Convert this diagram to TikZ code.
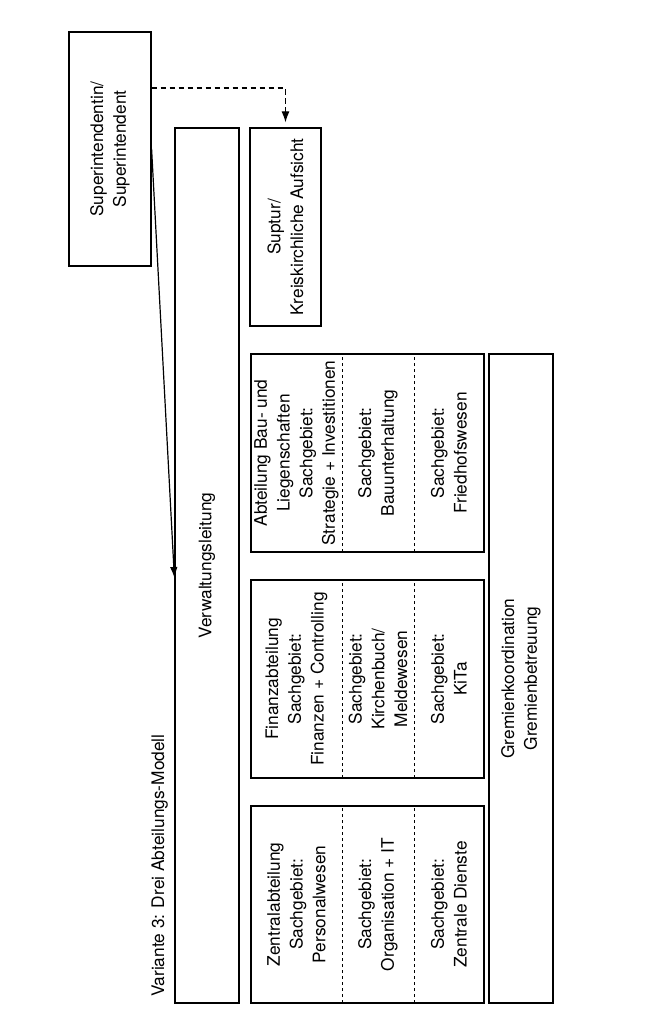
\documentclass[tikz,border=0pt]{standalone}
\usepackage{fontspec}
\setmainfont{TeX Gyre Heros}
\usetikzlibrary{arrows.meta,calc}
\begin{document}
\begin{tikzpicture}[x=1pt,y=1pt,
  every node/.style={font=\fontsize{17.3}{22.7}\selectfont, inner sep=0pt},
  box/.style={draw, line width=1.2pt, rotate=90, align=center},
  cell/.style={rotate=90, align=center, inner sep=0pt, minimum width=198pt},
  divline/.style={line width=1pt, dash pattern=on 3.5pt off 2.5pt},
  link/.style={line width=1.2pt, -{Latex[length=11pt,width=7.5pt]}},
]
\useasboundingbox (0,0) rectangle (667,-1027);
% title
\node[rotate=90, anchor=base west] (title) at (164,-997) {Variante 3: Drei Abteilungs-Modell};
% top nodes
\node[box, minimum width=234pt, minimum height=82pt] (sup) at (110,-149) {Superintendentin/\\Superintendent};
\node[box, minimum width=875pt, minimum height=64pt] (vl) at (207,-565.5) {Verwaltungsleitung};
\node[box, minimum width=198pt, minimum height=71pt] (spt) at (285.5,-227) {Suptur/\\Kreiskirchliche Aufsicht};
% departments
\node[box, minimum width=198pt, minimum height=233pt] (bau) at (367.5,-453) {};
\node[box, minimum width=198pt, minimum height=233pt] (fin) at (367.5,-679) {};
\node[box, minimum width=197pt, minimum height=233pt] (zen) at (367.5,-904.5) {};
% cells Bau
\node[cell, minimum height=91pt] (bau1) at (296.5,-453) {Abteilung Bau- und\\Liegenschaften\\Sachgebiet:\\Strategie + Investitionen};
\node[cell, minimum height=72pt] (bau2) at (378,-453) {Sachgebiet:\\Bauunterhaltung};
\node[cell, minimum height=70pt] (bau3) at (449,-453) {Sachgebiet:\\Friedhofswesen};
% cells Finanz
\node[cell, minimum height=91pt] (fin1) at (296.5,-679) {Finanzabteilung\\Sachgebiet:\\Finanzen + Controlling};
\node[cell, minimum height=72pt] (fin2) at (378,-679) {Sachgebiet:\\Kirchenbuch/\\Meldewesen};
\node[cell, minimum height=70pt] (fin3) at (449,-679) {Sachgebiet:\\KiTa};
% cells Zentral
\node[cell, minimum width=197pt, minimum height=91pt] (zen1) at (296.5,-904.5) {Zentralabteilung\\Sachgebiet:\\Personalwesen};
\node[cell, minimum width=197pt, minimum height=72pt] (zen2) at (378,-904.5) {Sachgebiet:\\Organisation + IT};
\node[cell, minimum width=197pt, minimum height=70pt] (zen3) at (449,-904.5) {Sachgebiet:\\Zentrale Dienste};
% dividers
\foreach \c in {bau1,bau2,fin1,fin2,zen1,zen2}{
  \draw[divline] (\c.south west) -- (\c.south east);
}
% Gremien
\node[box, minimum width=649pt, minimum height=64pt] (grem) at (521,-678.5) {Gremienkoordination\\Gremienbetreuung};
% connectors
\draw[link] (sup.south) -- ($(vl.north)+(0,-12.5)$);
\draw[line width=1.2pt, dash pattern=on 5.5pt off 3.5pt, -{Latex[length=11pt,width=8pt]}]
  ($(sup.south)+(0,61)$) -| ($(spt.east)+(0,5)$);
\end{tikzpicture}
\end{document}
